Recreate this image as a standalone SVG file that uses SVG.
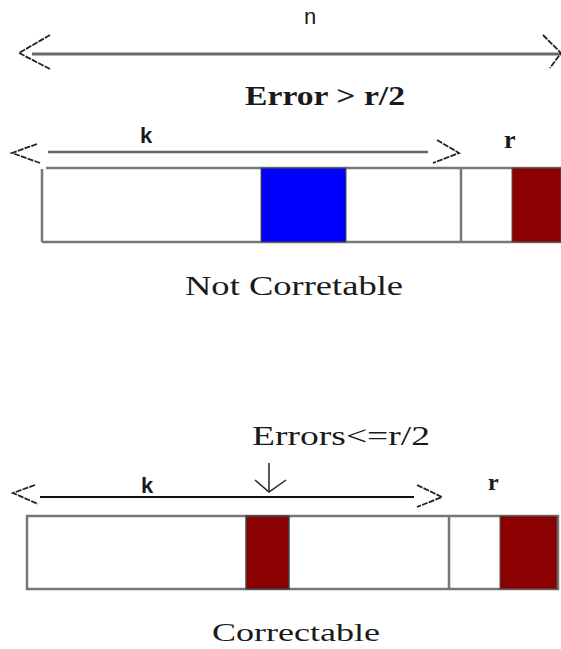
<svg xmlns="http://www.w3.org/2000/svg" width="561" height="649" viewBox="0 0 561 649">
<style>
.head{fill:none;stroke:#222;stroke-width:1.8;stroke-dasharray:6 1.2}
.dim{stroke:#6a6a6a;stroke-width:3;fill:none}
.box{stroke:#777;stroke-width:2.5;fill:none}
.lab{font-family:"Liberation Serif",serif;fill:#1a1a1a}
.sans{font-family:"Liberation Sans",sans-serif;fill:#1a1a1a}
</style>
<rect width="561" height="649" fill="#fff"/>
<g id="connectors">
  <line class="dim" x1="32" y1="54" x2="561" y2="54"/>
  <polyline class="head" points="50,35 19,53 50,69"/>
  <polyline class="head" points="543,35 561,53 550,68"/>
  <line x1="48" y1="152" x2="428" y2="152" stroke="#666" stroke-width="2.5"/>
  <polyline class="head" points="37,144 12,153 40,163"/>
  <polyline class="head" points="437,140 459,153 433,163"/>
  <line x1="40" y1="497" x2="414" y2="497" stroke="#111" stroke-width="2"/>
  <polyline class="head" points="35,485 13,493 38,504"/>
  <polyline class="head" points="417,485 442,497 417,507"/>
  <line x1="269" y1="463" x2="269" y2="492" stroke="#222" stroke-width="1.5"/>
  <polyline points="255,480 269,492 286,480" fill="none" stroke="#222" stroke-width="1.5"/>
</g>
<g id="top-labels">
  <text class="sans" x="310" y="24" font-size="22" text-anchor="middle">n</text>
  <text class="lab" x="245" y="105" font-size="27" font-weight="bold" textLength="160" lengthAdjust="spacingAndGlyphs">Error &gt; r/2</text>
  <text class="sans" x="140" y="143" font-size="22" font-weight="bold">k</text>
  <text class="lab" x="504" y="148" font-size="26" font-weight="bold">r</text>
</g>
<g id="codeword-not-correctable">
  <line class="box" x1="46" y1="168" x2="561" y2="168"/>
  <line class="box" x1="42" y1="169" x2="42" y2="242"/>
  <line class="box" x1="42" y1="242" x2="561" y2="242"/>
  <rect x="261" y="168" width="85" height="74" fill="#0000ff" stroke="#555533" stroke-width="1"/>
  <line class="box" x1="461" y1="168" x2="461" y2="242"/>
  <rect x="512" y="168" width="49" height="74" fill="#8b0000" stroke="#555" stroke-width="1"/>
  <text class="lab" x="185" y="295" font-size="28" textLength="218" lengthAdjust="spacingAndGlyphs">Not Corretable</text>
</g>
<g id="bottom-labels">
  <text class="lab" x="252" y="445" font-size="28" textLength="178" lengthAdjust="spacingAndGlyphs">Errors&lt;=r/2</text>
  <text class="sans" x="141" y="493" font-size="22" font-weight="bold">k</text>
  <text class="lab" x="488" y="490" font-size="24" font-weight="bold">r</text>
</g>
<g id="codeword-correctable">
  <rect class="box" x="27" y="516" width="531" height="73"/>
  <rect x="246" y="516" width="43" height="73" fill="#8b0000" stroke="#444" stroke-width="1.5"/>
  <line class="box" x1="449" y1="516" x2="449" y2="589"/>
  <rect x="500" y="516" width="57" height="73" fill="#8b0000" stroke="#555" stroke-width="1"/>
  <text class="lab" x="212" y="641" font-size="26" textLength="168" lengthAdjust="spacingAndGlyphs">Correctable</text>
</g>
</svg>
